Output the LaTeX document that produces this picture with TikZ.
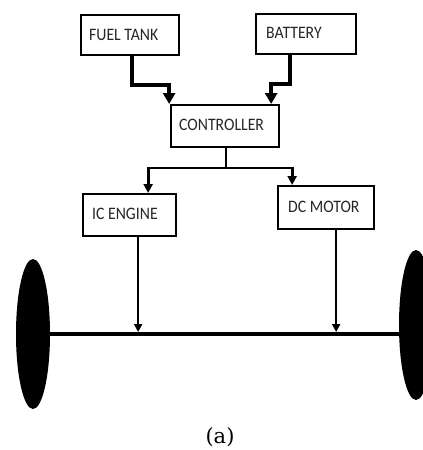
\documentclass[tikz,border=0pt]{standalone}
\usepackage{fontspec}
\setmainfont{Carlito}
\newfontfamily\boxfont[FakeStretch=0.9]{Carlito}
\newfontfamily\capfont{DejaVu Serif}
\usetikzlibrary{arrows.meta,shapes.geometric,calc,backgrounds}
\begin{document}
\begin{tikzpicture}[x=1pt,y=-1pt,
  box/.style={draw,line width=2.3pt,rectangle,anchor=north west,inner sep=0pt},
  boxtext/.style={anchor=west,inner sep=0pt,font=\boxfont\fontsize{17.5}{19}\selectfont,text=black!85},
  wheel/.style={ellipse,fill=black,inner sep=0pt,minimum width=34pt,minimum height=150pt},
  thickarrow/.style={line width=4.5pt,-{Triangle[width=12pt,length=11pt]}},
  midarrow/.style={line width=2.8pt,-{Triangle[width=9pt,length=9pt]}},
  thinarrow/.style={line width=2pt,-{Triangle[width=8pt,length=8pt]}}]
\useasboundingbox (0,0) rectangle (423,450);
% boxes
\node[box,minimum width=98pt,minimum height=40pt] (ft) at (80,14) {};
\node[boxtext] (ftt) at (89,35) {FUEL TANK};
\node[box,minimum width=100pt,minimum height=40pt] (bat) at (255,13) {};
\node[boxtext] (batt) at (266,33) {BATTERY};
\node[box,minimum width=108pt,minimum height=42pt] (ctrl) at (170,104) {};
\node[boxtext] (ctrlt) at (179,125) {CONTROLLER};
\node[box,minimum width=93pt,minimum height=42pt] (ice) at (82,193) {};
\node[boxtext] (icet) at (92,214) {IC ENGINE};
\node[box,minimum width=96pt,minimum height=43pt] (dcm) at (277,185) {};
\node[boxtext] (dcmt) at (288,207) {DC MOTOR};
% wheels and axle
\node[wheel] (lw) at (33,334) {};
\node[wheel] (rw) at (416,325) {};
\begin{pgfonlayer}{background}
\draw[line width=4.5pt] (lw.center) -- (lw.center -| rw.center);
\end{pgfonlayer}
% connectors
\coordinate (ftk) at (132,85);
\coordinate (batk) at (290,84);
\coordinate (ctrlL) at ($(ctrl.north)+(-56,0)$);
\coordinate (ctrlR) at ($(ctrl.north)+(46,0)$);
\draw[thickarrow] (ftk |- ft.south) -- (ftk) -| (ctrlL);
\draw[thickarrow] (batk |- bat.south) -- (batk) -| (ctrlR);
\coordinate (split) at (226,168);
\coordinate (iceN) at ($(ice.north)+(18.5,0)$);
\coordinate (dcmN) at ($(dcm.north)+(-34,0)$);
\draw[line width=2.8pt] (split |- ctrl.south) -- (split);
\draw[midarrow] (split) -| (iceN);
\draw[midarrow] (split) -| (dcmN);
\coordinate (iceS) at ($(ice.south)+(8.5,0)$);
\coordinate (dcmS) at ($(dcm.south)+(10,0)$);
\draw[thinarrow,shorten >=2pt] (iceS) -- (iceS |- lw.center);
\draw[thinarrow,shorten >=2pt] (dcmS) -- (dcmS |- lw.center);
% caption
\node[font=\capfont\fontsize{21}{23}\selectfont] (cap) at (220,437) {(a)};
\end{tikzpicture}
\end{document}
